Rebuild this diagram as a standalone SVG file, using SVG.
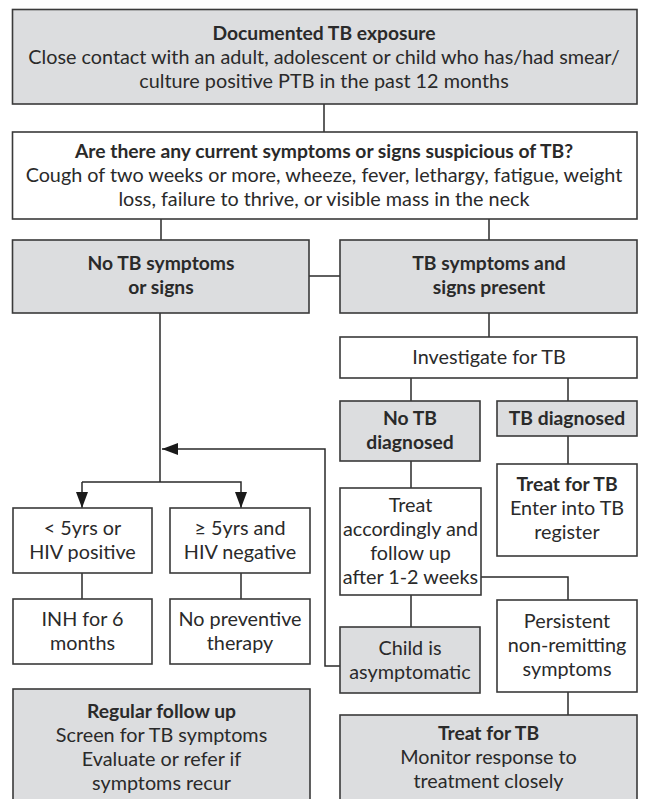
<svg xmlns="http://www.w3.org/2000/svg" width="647" height="799" viewBox="0 0 647 799">
  <defs>
    <style>
      .box { stroke: #3a3a3a; stroke-width: 1.6; }
      .grey { fill: #dcdddf; }
      .white { fill: #ffffff; }
      .t { font-family: Lato, "Liberation Sans", sans-serif; font-size: 19.8px; fill: #2a2a2a; text-anchor: middle; }
      .b { font-weight: bold; font-size: 19.3px; }
      .wire { fill: none; stroke: #2a2a2a; stroke-width: 1.5; }
    </style>
    <marker id="arrow" viewBox="0 0 16 12" refX="16" refY="6" markerWidth="16" markerHeight="12" markerUnits="userSpaceOnUse" orient="auto">
      <path d="M0,0 L16,6 L0,12 Z" fill="#1a1a1a"/>
    </marker>
  </defs>

  <rect width="647" height="799" fill="#ffffff"/>

  <!-- connectors -->
  <g id="connectors" class="wire">
    <line x1="324" y1="104" x2="324" y2="132"/>
    <line x1="161" y1="219" x2="161" y2="240"/>
    <line x1="489" y1="219" x2="489" y2="240"/>
    <line x1="309" y1="276" x2="340" y2="276"/>
    <line x1="489" y1="313" x2="489" y2="337"/>
    <line x1="411" y1="378" x2="411" y2="401"/>
    <line x1="568" y1="378" x2="568" y2="401"/>
    <line x1="568" y1="436" x2="568" y2="464"/>
    <line x1="411" y1="461" x2="411" y2="488"/>
    <polyline points="481,577 568,577 568,600"/>
    <line x1="411" y1="595" x2="411" y2="627"/>
    <line x1="568" y1="692" x2="568" y2="715"/>
    <polyline points="340,666 325,666 325,449 162,449" marker-end="url(#arrow)"/>
    <line x1="160" y1="313" x2="160" y2="482"/>
    <polyline points="82,482 241,482 241,508" marker-end="url(#arrow)"/>
    <line x1="82" y1="482" x2="82" y2="508" marker-end="url(#arrow)"/>
    <line x1="82" y1="573" x2="82" y2="599"/>
    <line x1="241" y1="573" x2="241" y2="599"/>
  </g>

  <g id="exposure">
    <rect class="box grey" x="12.5" y="9.5" width="624.5" height="94.5"/>
    <text class="t b" x="324" y="40">Documented TB exposure</text>
    <text class="t" x="324" y="64">Close contact with an adult, adolescent or child who has/had smear/</text>
    <text class="t" x="324" y="88">culture positive PTB in the past 12 months</text>
  </g>

  <g id="symptom-check">
    <rect class="box white" x="12.5" y="132" width="624.5" height="87"/>
    <text class="t b" x="324" y="158">Are there any current symptoms or signs suspicious of TB?</text>
    <text class="t" x="324" y="182">Cough of two weeks or more, wheeze, fever, lethargy, fatigue, weight</text>
    <text class="t" x="324" y="206">loss, failure to thrive, or visible mass in the neck</text>
  </g>

  <g id="no-symptoms">
    <rect class="box grey" x="12.5" y="240" width="296.5" height="73"/>
    <text class="t b" x="161" y="270">No TB symptoms</text>
    <text class="t b" x="161" y="294">or signs</text>
  </g>

  <g id="symptoms-present">
    <rect class="box grey" x="340" y="240" width="297" height="73"/>
    <text class="t b" x="489" y="270">TB symptoms and</text>
    <text class="t b" x="489" y="294">signs present</text>
  </g>

  <g id="investigate">
    <rect class="box white" x="340" y="337" width="297" height="41"/>
    <text class="t" x="489" y="364">Investigate for TB</text>
  </g>

  <g id="no-tb-diagnosed">
    <rect class="box grey" x="340" y="401" width="140" height="60"/>
    <text class="t b" x="410" y="425">No TB</text>
    <text class="t b" x="410" y="449">diagnosed</text>
  </g>

  <g id="tb-diagnosed">
    <rect class="box grey" x="497" y="401" width="140" height="35"/>
    <text class="t b" x="567" y="425">TB diagnosed</text>
  </g>

  <g id="treat-register">
    <rect class="box white" x="497" y="464" width="140" height="92"/>
    <text class="t b" x="567" y="491">Treat for TB</text>
    <text class="t" x="567" y="515">Enter into TB</text>
    <text class="t" x="567" y="539">register</text>
  </g>

  <g id="treat-accordingly">
    <rect class="box white" x="340" y="488" width="141" height="107"/>
    <text class="t" x="410.5" y="512">Treat</text>
    <text class="t" x="410.5" y="536">accordingly and</text>
    <text class="t" x="410.5" y="560">follow up</text>
    <text class="t" x="410.5" y="584">after 1-2 weeks</text>
  </g>

  <g id="persistent">
    <rect class="box white" x="497" y="600" width="140" height="92"/>
    <text class="t" x="567" y="628">Persistent</text>
    <text class="t" x="567" y="652">non-remitting</text>
    <text class="t" x="567" y="676">symptoms</text>
  </g>

  <g id="asymptomatic">
    <rect class="box grey" x="340" y="627" width="140" height="66"/>
    <text class="t" x="410" y="655">Child is</text>
    <text class="t" x="410" y="679">asymptomatic</text>
  </g>

  <g id="under-five">
    <rect class="box white" x="13" y="508" width="139" height="65"/>
    <text class="t" x="82.5" y="535">&lt; 5yrs or</text>
    <text class="t" x="82.5" y="559">HIV positive</text>
  </g>

  <g id="five-plus">
    <rect class="box white" x="170" y="508" width="140" height="65"/>
    <text class="t" x="240" y="535">≥ 5yrs and</text>
    <text class="t" x="240" y="559">HIV negative</text>
  </g>

  <g id="inh">
    <rect class="box white" x="13" y="599" width="139" height="65"/>
    <text class="t" x="82.5" y="626">INH for 6</text>
    <text class="t" x="82.5" y="650">months</text>
  </g>

  <g id="no-preventive">
    <rect class="box white" x="170" y="599" width="140" height="65"/>
    <text class="t" x="240" y="626">No preventive</text>
    <text class="t" x="240" y="650">therapy</text>
  </g>

  <g id="follow-up">
    <rect class="box grey" x="13" y="689" width="297" height="125"/>
    <text class="t b" x="161.5" y="718">Regular follow up</text>
    <text class="t" x="161.5" y="742">Screen for TB symptoms</text>
    <text class="t" x="161.5" y="766">Evaluate or refer if</text>
    <text class="t" x="161.5" y="790">symptoms recur</text>
  </g>

  <g id="treat-monitor">
    <rect class="box grey" x="340" y="715" width="297" height="100"/>
    <text class="t b" x="488.5" y="740">Treat for TB</text>
    <text class="t" x="488.5" y="764">Monitor response to</text>
    <text class="t" x="488.5" y="788">treatment closely</text>
  </g>
</svg>
